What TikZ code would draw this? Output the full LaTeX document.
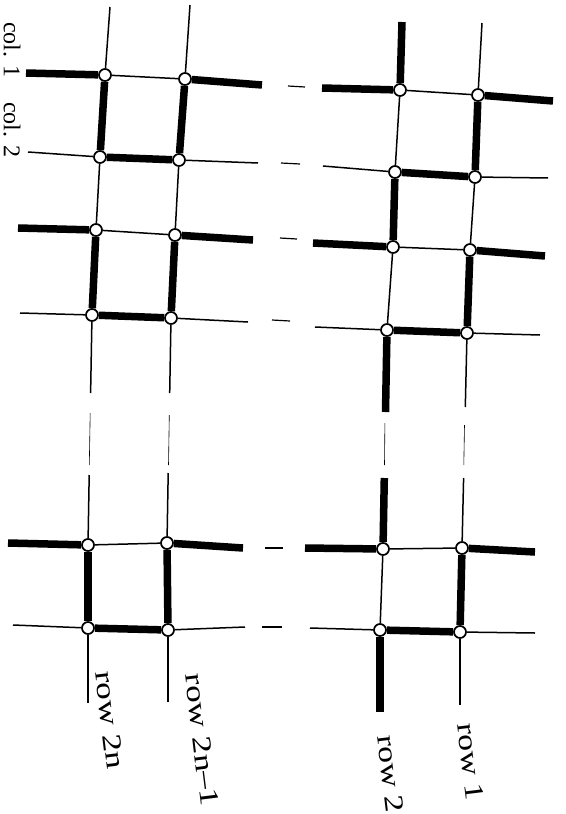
\documentclass[tikz,border=0pt]{standalone}
\usepackage{fontspec}
\setmainfont{Liberation Serif}
\usepackage{graphicx}
\begin{document}
\begin{tikzpicture}[x=1pt,y=-1pt,
  thinl/.style={line width=1.5pt},
  thickl/.style={line width=7.5pt},
  faint/.style={line width=0.6pt},
  tickmark/.style={line width=1.2pt},
  vtx/.style={circle,draw,fill=white,inner sep=0pt,minimum size=12pt,line width=1.7pt},
  lbl/.style={font=\fontsize{27}{27}\selectfont,rotate=-83,inner sep=0pt},
  clbl/.style={font=\fontsize{24}{24}\selectfont,rotate=-90,inner sep=0pt}]
\useasboundingbox (0,0) rectangle (565,814);

% ---- vertices ----
\node[vtx] (La1) at (105,75) {};  \node[vtx] (Lb1) at (185,79) {};
\node[vtx] (La2) at (100,157) {}; \node[vtx] (Lb2) at (179,160) {};
\node[vtx] (La3) at (96,230) {};  \node[vtx] (Lb3) at (175,235) {};
\node[vtx] (La4) at (92,315) {};  \node[vtx] (Lb4) at (171,318) {};
\node[vtx] (La5) at (88,545) {};  \node[vtx] (Lb5) at (167,543) {};
\node[vtx] (La6) at (88,628) {};  \node[vtx] (Lb6) at (168,630) {};
\node[vtx] (Ra1) at (400,90) {};  \node[vtx] (Rb1) at (478,95) {};
\node[vtx] (Ra2) at (395,172) {}; \node[vtx] (Rb2) at (475,177) {};
\node[vtx] (Ra3) at (393,247) {}; \node[vtx] (Rb3) at (470,250) {};
\node[vtx] (Ra4) at (387,330) {}; \node[vtx] (Rb4) at (467,333) {};
\node[vtx] (Ra5) at (383,549) {}; \node[vtx] (Rb5) at (462,548) {};
\node[vtx] (Ra6) at (380,630) {}; \node[vtx] (Rb6) at (460,632) {};

% ---- row line ends and gaps ----
\coordinate (La0) at (110,7);   \coordinate (Lb0) at (190,5);
\coordinate (Ra0) at (402,22);  \coordinate (Rb0) at (482,23);
\coordinate (La7) at (88,703);  \coordinate (Lb7) at (168,702);
\coordinate (Ra7) at (380,712); \coordinate (Rb7) at (460,705);
\coordinate (LaS) at (90.6,393);  \coordinate (LaF1) at (90.2,413);  \coordinate (LaF2) at (89.3,465);  \coordinate (LaT) at (89.2,475);
\coordinate (LbS) at (169.7,393); \coordinate (LbF1) at (169.3,415); \coordinate (LbF2) at (168.5,465); \coordinate (LbT) at (168.2,473);
\coordinate (RaS) at (385.5,412); \coordinate (RaF1) at (384.9,423); \coordinate (RaF2) at (384.5,465); \coordinate (RaT) at (384.3,478);
\coordinate (RbS) at (465.3,407); \coordinate (RbF1) at (464.5,425); \coordinate (RbF2) at (463.8,465); \coordinate (RbT) at (463.6,478);

% ---- column line ends ----
\coordinate (Lc1L) at (26,73);  \coordinate (Lc1R) at (262,85);
\coordinate (Lc2L) at (28,152); \coordinate (Lc2R) at (258,163);
\coordinate (Lc3L) at (18,228); \coordinate (Lc3R) at (253,240);
\coordinate (Lc4L) at (20,313); \coordinate (Lc4R) at (248,322);
\coordinate (Lc5L) at (8,543);  \coordinate (Lc5R) at (243,548);
\coordinate (Lc6L) at (13,625); \coordinate (Lc6R) at (245,627);
\coordinate (Rc1L) at (322,88);  \coordinate (Rc1R) at (553,101);
\coordinate (Rc2L) at (323,166); \coordinate (Rc2R) at (548,178);
\coordinate (Rc3L) at (313,243); \coordinate (Rc3R) at (545,256);
\coordinate (Rc4L) at (315,327); \coordinate (Rc4R) at (540,335);
\coordinate (Rc5L) at (305,548); \coordinate (Rc5R) at (535,552);
\coordinate (Rc6L) at (310,628); \coordinate (Rc6R) at (535,633);

% ---- small dashes between the groups ----
\coordinate (D1L) at (288,86);  \coordinate (D1R) at (305,87);
\coordinate (D2L) at (281,163); \coordinate (D2R) at (300,164);
\coordinate (D3L) at (280,238); \coordinate (D3R) at (297,239);
\coordinate (D4L) at (272,320); \coordinate (D4R) at (290,321);
\coordinate (D5L) at (265,548); \coordinate (D5R) at (283,548);
\coordinate (D6L) at (262,627); \coordinate (D6R) at (282,627);

% ---- rows (vertical in picture) ----
% row 2n
\draw[thinl] (La0) -- (La1);
\draw[thickl] (La1) -- (La2);
\draw[thinl] (La2) -- (La3);
\draw[thickl] (La3) -- (La4);
\draw[thinl] (La4) -- (LaS);
\draw[faint] (LaF1) -- (LaF2);
\draw[thinl] (LaT) -- (La5);
\draw[thickl] (La5) -- (La6);
\draw[thinl] (La6) -- (La7);
% row 2n-1
\draw[thinl] (Lb0) -- (Lb1);
\draw[thickl] (Lb1) -- (Lb2);
\draw[thinl] (Lb2) -- (Lb3);
\draw[thickl] (Lb3) -- (Lb4);
\draw[thinl] (Lb4) -- (LbS);
\draw[faint] (LbF1) -- (LbF2);
\draw[thinl] (LbT) -- (Lb5);
\draw[thickl] (Lb5) -- (Lb6);
\draw[thinl] (Lb6) -- (Lb7);
% row 2
\draw[thickl] (Ra0) -- (Ra1);
\draw[thinl] (Ra1) -- (Ra2);
\draw[thickl] (Ra2) -- (Ra3);
\draw[thinl] (Ra3) -- (Ra4);
\draw[thickl] (Ra4) -- (RaS);
\draw[faint] (RaF1) -- (RaF2);
\draw[thickl] (RaT) -- (Ra5);
\draw[thinl] (Ra5) -- (Ra6);
\draw[thickl] (Ra6) -- (Ra7);
% row 1
\draw[thinl] (Rb0) -- (Rb1);
\draw[thickl] (Rb1) -- (Rb2);
\draw[thinl] (Rb2) -- (Rb3);
\draw[thickl] (Rb3) -- (Rb4);
\draw[thinl] (Rb4) -- (RbS);
\draw[faint] (RbF1) -- (RbF2);
\draw[thinl] (RbT) -- (Rb5);
\draw[thickl] (Rb5) -- (Rb6);
\draw[thinl] (Rb6) -- (Rb7);

% ---- columns (horizontal in picture) ----
\draw[thickl] (Lc1L) -- (La1); \draw[thinl] (La1) -- (Lb1); \draw[thickl] (Lb1) -- (Lc1R);
\draw[thinl] (Lc2L) -- (La2);  \draw[thickl] (La2) -- (Lb2); \draw[thinl] (Lb2) -- (Lc2R);
\draw[thickl] (Lc3L) -- (La3); \draw[thinl] (La3) -- (Lb3); \draw[thickl] (Lb3) -- (Lc3R);
\draw[thinl] (Lc4L) -- (La4);  \draw[thickl] (La4) -- (Lb4); \draw[thinl] (Lb4) -- (Lc4R);
\draw[thickl] (Lc5L) -- (La5); \draw[thinl] (La5) -- (Lb5); \draw[thickl] (Lb5) -- (Lc5R);
\draw[thinl] (Lc6L) -- (La6);  \draw[thickl] (La6) -- (Lb6); \draw[thinl] (Lb6) -- (Lc6R);

\draw[thickl] (Rc1L) -- (Ra1); \draw[thinl] (Ra1) -- (Rb1); \draw[thickl] (Rb1) -- (Rc1R);
\draw[thinl] (Rc2L) -- (Ra2);  \draw[thickl] (Ra2) -- (Rb2); \draw[thinl] (Rb2) -- (Rc2R);
\draw[thickl] (Rc3L) -- (Ra3); \draw[thinl] (Ra3) -- (Rb3); \draw[thickl] (Rb3) -- (Rc3R);
\draw[thinl] (Rc4L) -- (Ra4);  \draw[thickl] (Ra4) -- (Rb4); \draw[thinl] (Rb4) -- (Rc4R);
\draw[thickl] (Rc5L) -- (Ra5); \draw[thinl] (Ra5) -- (Rb5); \draw[thickl] (Rb5) -- (Rc5R);
\draw[thinl] (Rc6L) -- (Ra6);  \draw[thickl] (Ra6) -- (Rb6); \draw[thinl] (Rb6) -- (Rc6R);

\draw[tickmark] (D1L) -- (D1R);
\draw[tickmark] (D2L) -- (D2R);
\draw[tickmark] (D3L) -- (D3R);
\draw[tickmark] (D4L) -- (D4R);
\draw[tickmark] (D5L) -- (D5R);
\draw[tickmark] (D6L) -- (D6R);

% ---- labels ----
\node[clbl] (col1) at (12,50) {col. 1};
\node[clbl] (col2) at (12,130) {col. 2};
\node[lbl] (row2n) at (110,720) {\scalebox{1.3}[1]{row 2n}};
\node[lbl] (row2n1) at (202,740) {\scalebox{1.3}[1]{row 2n--1}};
\node[lbl] (row2) at (391,774) {\scalebox{1.25}[1]{row 2}};
\node[lbl] (row1) at (471,762) {\scalebox{1.25}[1]{row 1}};
\end{tikzpicture}
\end{document}
